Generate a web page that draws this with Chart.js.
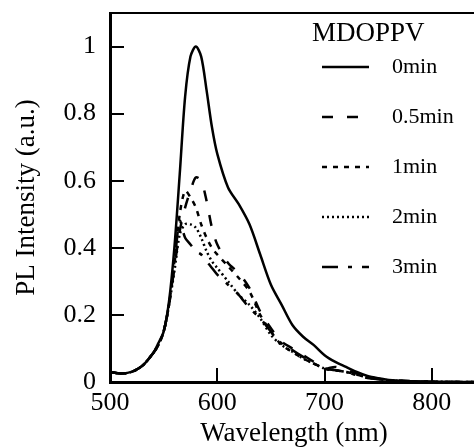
<!DOCTYPE html>
<html>
<head>
<meta charset="utf-8">
<script src="https://cdn.jsdelivr.net/npm/chart.js@4"></script>
<style>
  html, body { margin: 0; padding: 0; background: #fff; overflow: hidden; }
  #wrap { width: 480px; height: 447px; }
</style>
</head>
<body>
<div id="wrap"><canvas id="myChart" width="480" height="447"></canvas></div>
<script>
// wavelength (nm)
const wavelength = [500, 510, 520, 530, 540, 545, 550, 555, 560, 565, 570, 575, 580, 585, 590, 595, 600,
    610, 620, 630, 640, 650, 660, 670, 680, 690, 700, 710, 720, 730, 740, 750, 760, 780, 800, 820, 840]

const min0 = [0.030, 0.025, 0.030, 0.048, 0.085, 0.115, 0.150, 0.240, 0.400, 0.620, 0.850, 0.970, 1.000, 0.970, 0.870, 0.760, 0.680,
    0.580, 0.530, 0.470, 0.380, 0.290, 0.230, 0.170, 0.135, 0.110, 0.080, 0.060, 0.045, 0.030, 0.018, 0.011, 0.006, 0.002, 0.001, 0, 0]
const min05 = [0.030, 0.025, 0.030, 0.048, 0.085, 0.110, 0.150, 0.230, 0.340, 0.450, 0.520, 0.570, 0.610, 0.600, 0.540, 0.460, 0.410,
    0.355, 0.325, 0.280, 0.210, 0.160, 0.120, 0.100, 0.080, 0.060, 0.040, 0.045, 0.035, 0.025, 0.015, 0.010, 0.006, 0.003, 0.001, 0, 0]
const min1 = [0.030, 0.025, 0.030, 0.048, 0.085, 0.110, 0.150, 0.230, 0.360, 0.500, 0.570, 0.550, 0.520, 0.470, 0.430, 0.400, 0.380,
    0.345, 0.310, 0.270, 0.200, 0.150, 0.110, 0.090, 0.070, 0.055, 0.040, 0.035, 0.030, 0.022, 0.014, 0.009, 0.005, 0.002, 0.001, 0, 0]
const min2 = [0.030, 0.025, 0.030, 0.048, 0.085, 0.110, 0.150, 0.230, 0.330, 0.440, 0.470, 0.470, 0.460, 0.430, 0.390, 0.360, 0.340,
    0.300, 0.260, 0.230, 0.190, 0.140, 0.110, 0.090, 0.070, 0.055, 0.040, 0.035, 0.030, 0.022, 0.014, 0.009, 0.005, 0.002, 0.001, 0, 0]
const min3 = [0.030, 0.025, 0.030, 0.048, 0.085, 0.110, 0.150, 0.230, 0.350, 0.480, 0.430, 0.410, 0.390, 0.380, 0.360, 0.340, 0.320,
    0.290, 0.260, 0.220, 0.190, 0.150, 0.115, 0.095, 0.075, 0.055, 0.040, 0.035, 0.030, 0.020, 0.012, 0.008, 0.005, 0.002, 0.001, 0, 0]

const seriesNames = ['0min', '0.5min', '1min', '2min', '3min']
const seriesDash = [[], [11, 14], [5, 6], [2, 3], [16, 10, 4, 10]]
const xTickLabels = ['500', '600', '700', '800']
const yTickLabels = ['0', '0.2', '0.4', '0.6', '0.8', '1']

const allSeries = [min0, min05, min1, min2, min3]

function pts(ys) {
    let out = []
    for (let i = 0; i < wavelength.length; i++) {
        out.push({ x: wavelength[i], y: ys[i] })
    }
    return out
}

const datasets = allSeries.map((ys, i) => ({
    label: seriesNames[i],
    data: pts(ys),
    borderColor: '#000',
    backgroundColor: 'rgba(0,0,0,0)',
    borderWidth: 2.5,
    borderDash: seriesDash[i],
    pointRadius: 0,
    tension: 0.3,
    fill: false
}))

// frame top line + legend in the top right corner
const extras = {
    id: 'extras',
    afterDraw(chart) {
        const ctx = chart.ctx
        const a = chart.chartArea
        ctx.save()
        ctx.strokeStyle = '#000'
        ctx.lineWidth = 2
        ctx.beginPath()
        ctx.moveTo(a.left, a.top)
        ctx.lineTo(a.right + 5, a.top)
        ctx.stroke()

        ctx.fillStyle = '#000'
        ctx.textBaseline = 'middle'
        ctx.textAlign = 'left'
        ctx.font = '27px "Liberation Serif"'
        ctx.fillText('MDOPPV', 312, 34)
        ctx.font = '22px "Liberation Serif"'
        for (let i = 0; i < seriesNames.length; i++) {
            const y = 67 + i * 50
            ctx.lineWidth = 2.5
            ctx.setLineDash(seriesDash[i])
            ctx.beginPath()
            ctx.moveTo(322, y)
            ctx.lineTo(369, y)
            ctx.stroke()
            ctx.setLineDash([])
            ctx.fillText(seriesNames[i], 392, y)
        }
        ctx.restore()
    }
}

const ctx = document.getElementById('myChart').getContext('2d')
const myChart = new Chart(ctx, {
    type: 'line',
    data: { datasets: datasets },
    plugins: [extras],
    options: {
        responsive: false,
        animation: false,
        devicePixelRatio: 1,
        layout: { padding: { top: 13, right: 2, left: 0, bottom: 0 } },
        plugins: { legend: { display: false }, tooltip: { enabled: false } },
        scales: {
            x: {
                type: 'linear',
                min: 500,
                max: 843,
                afterFit: (s) => { s.height = 65; s.paddingLeft = 0; s.paddingRight = 0 },
                border: { color: '#000', width: 3 },
                grid: { drawOnChartArea: false, color: '#000', lineWidth: 2, tickLength: -14 },
                ticks: {
                    stepSize: 100,
                    includeBounds: false,
                    maxRotation: 0,
                    padding: 20,
                    color: '#000',
                    font: { family: 'Liberation Serif', size: 26 },
                    callback: (v) => xTickLabels[(v - 500) / 100]
                },
                title: {
                    display: true,
                    text: 'Wavelength (nm)',
                    color: '#000',
                    font: { family: 'Liberation Serif', size: 27, lineHeight: 1 },
                    padding: 0
                }
            },
            y: {
                min: 0,
                max: 1.1,
                afterFit: (s) => { s.width = 110; s.paddingTop = 0; s.paddingBottom = 0 },
                border: { color: '#000', width: 3 },
                grid: { drawOnChartArea: false, color: '#000', lineWidth: 2, tickLength: -14 },
                ticks: {
                    stepSize: 0.2,
                    includeBounds: false,
                    padding: 28,
                    color: '#000',
                    font: { family: 'Liberation Serif', size: 26 },
                    callback: (v) => yTickLabels[Math.round(v / 0.2)]
                },
                title: {
                    display: true,
                    text: 'PL Intensity (a.u.)',
                    color: '#000',
                    font: { family: 'Liberation Serif', size: 27, lineHeight: 1 },
                    padding: { top: 13, bottom: 0 }
                }
            }
        }
    }
})
</script>
</body>
</html>
